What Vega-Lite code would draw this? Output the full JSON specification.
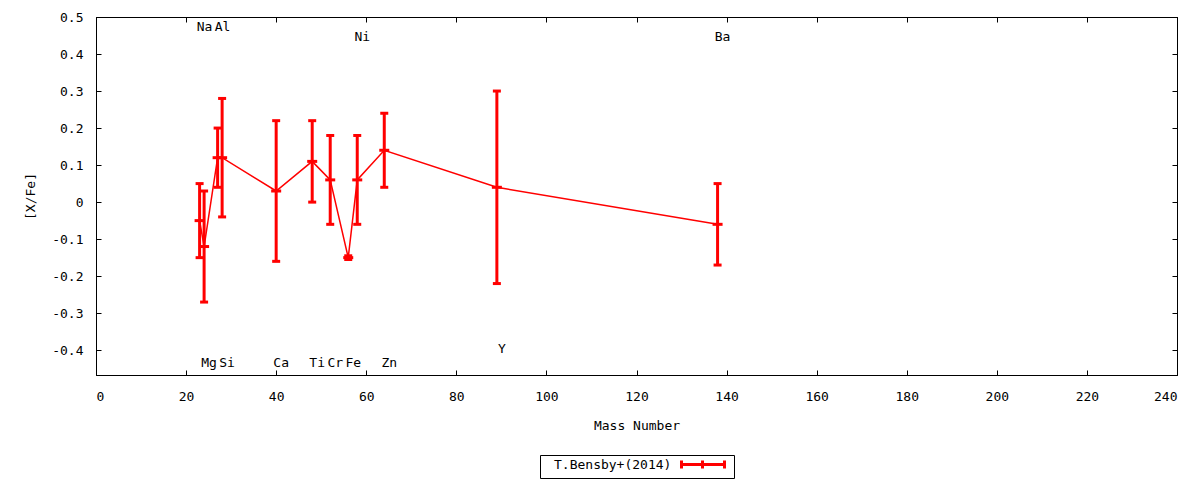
{
  "$schema": "https://vega.github.io/schema/vega-lite/v6.json",
  "width": 1081,
  "height": 358,
  "autosize": "none",
  "padding": {"left": 96, "top": 17, "right": 23, "bottom": 105},
  "background": "white",
  "config": {
    "font": "DejaVu Sans Mono",
    "view": {"stroke": "black", "strokeWidth": 1},
    "axis": {
      "labelFont": "DejaVu Sans Mono",
      "labelFontSize": 13,
      "labelColor": "black",
      "titleFont": "DejaVu Sans Mono",
      "titleFontSize": 13,
      "titleFontWeight": "normal",
      "titleColor": "black",
      "domainColor": "black",
      "tickColor": "black",
      "grid": false,
      "tickSize": -5
    }
  },
  "datasets": {
    "abund": [
      {"el": "Na", "mass": 23, "val": -0.05, "lo": -0.15, "hi": 0.05, "src": "T.Bensby+(2014)"},
      {"el": "Mg", "mass": 24, "val": -0.12, "lo": -0.27, "hi": 0.03, "src": "T.Bensby+(2014)"},
      {"el": "Al", "mass": 27, "val": 0.12, "lo": 0.04, "hi": 0.20, "src": "T.Bensby+(2014)"},
      {"el": "Si", "mass": 28, "val": 0.12, "lo": -0.04, "hi": 0.28, "src": "T.Bensby+(2014)"},
      {"el": "Ca", "mass": 40, "val": 0.03, "lo": -0.16, "hi": 0.22, "src": "T.Bensby+(2014)"},
      {"el": "Ti", "mass": 48, "val": 0.11, "lo": 0.00, "hi": 0.22, "src": "T.Bensby+(2014)"},
      {"el": "Cr", "mass": 52, "val": 0.06, "lo": -0.06, "hi": 0.18, "src": "T.Bensby+(2014)"},
      {"el": "Fe", "mass": 56, "val": -0.15, "lo": -0.155, "hi": -0.145, "src": "T.Bensby+(2014)"},
      {"el": "Ni", "mass": 58, "val": 0.06, "lo": -0.06, "hi": 0.18, "src": "T.Bensby+(2014)"},
      {"el": "Zn", "mass": 64, "val": 0.14, "lo": 0.04, "hi": 0.24, "src": "T.Bensby+(2014)"},
      {"el": "Y", "mass": 89, "val": 0.04, "lo": -0.22, "hi": 0.30, "src": "T.Bensby+(2014)"},
      {"el": "Ba", "mass": 138, "val": -0.06, "lo": -0.17, "hi": 0.05, "src": "T.Bensby+(2014)"}
    ],
    "labels": [
      {"el": "Na", "mass": 23, "ly": 0.473},
      {"el": "Al", "mass": 27, "ly": 0.473},
      {"el": "Ni", "mass": 58, "ly": 0.446},
      {"el": "Ba", "mass": 138, "ly": 0.446},
      {"el": "Mg", "mass": 24, "ly": -0.434},
      {"el": "Si", "mass": 28, "ly": -0.434},
      {"el": "Ca", "mass": 40, "ly": -0.434},
      {"el": "Ti", "mass": 48, "ly": -0.434},
      {"el": "Cr", "mass": 52, "ly": -0.434},
      {"el": "Fe", "mass": 56, "ly": -0.434},
      {"el": "Zn", "mass": 64, "ly": -0.434},
      {"el": "Y", "mass": 89, "ly": -0.397}
    ]
  },
  "resolve": {"axis": {"x": "independent", "y": "independent"}},
  "layer": [
    {
      "data": {"name": "abund"},
      "mark": {"type": "line", "color": "#ff0000", "strokeWidth": 1.5},
      "encoding": {
        "x": {
          "field": "mass", "type": "quantitative",
          "scale": {"domain": [0, 240], "nice": false, "zero": false},
          "axis": {"orient": "bottom", "values": [0, 20, 40, 60, 80, 100, 120, 140, 160, 180, 200, 220, 240],
                   "title": "Mass Number", "labelPadding": 20, "titlePadding": 16}
        },
        "y": {
          "field": "val", "type": "quantitative",
          "scale": {"domain": [-0.467, 0.5], "nice": false, "zero": false},
          "axis": {"orient": "left", "values": [-0.4, -0.3, -0.2, -0.1, 0, 0.1, 0.2, 0.3, 0.4, 0.5],
                   "labelExpr": "datum.value + ''", "title": "[X/Fe]", "labelPadding": 18, "titlePadding": 14}
        },
        "order": {"field": "mass", "type": "quantitative"}
      }
    },
    {
      "data": {"name": "abund"},
      "mark": {"type": "rule", "strokeWidth": 3},
      "encoding": {
        "x": {"field": "mass", "type": "quantitative",
              "axis": {"orient": "top", "values": [0, 20, 40, 60, 80, 100, 120, 140, 160, 180, 200, 220, 240], "labels": false, "title": null}},
        "y": {"field": "lo", "type": "quantitative",
              "axis": {"orient": "right", "values": [-0.4, -0.3, -0.2, -0.1, 0, 0.1, 0.2, 0.3, 0.4, 0.5], "labels": false, "title": null}},
        "y2": {"field": "hi"},
        "color": {
          "field": "src", "type": "nominal",
          "scale": {"range": ["#ff0000"]},
          "legend": {
            "orient": "none", "legendX": 444, "legendY": 438, "title": null,
            "symbolType": "M132,-4L132,4M132,0L175,0M175,-4L175,4M153,-4L153,4",
            "symbolSize": 4, "symbolStrokeWidth": 3, "symbolStrokeColor": "#ff0000", "symbolFillColor": "transparent",
            "labelOffset": -2, "padding": 3, "rowPadding": 0, "strokeColor": "black",
            "labelFont": "DejaVu Sans Mono", "labelFontSize": 13, "labelColor": "black"
          }
        }
      }
    },
    {
      "data": {"name": "abund"},
      "mark": {"type": "tick", "orient": "horizontal", "color": "#ff0000", "size": 8, "thickness": 3, "opacity": 1},
      "encoding": {
        "x": {"field": "mass", "type": "quantitative", "axis": null},
        "y": {"field": "lo", "type": "quantitative", "axis": null}
      }
    },
    {
      "data": {"name": "abund"},
      "mark": {"type": "tick", "orient": "horizontal", "color": "#ff0000", "size": 8, "thickness": 3, "opacity": 1},
      "encoding": {
        "x": {"field": "mass", "type": "quantitative", "axis": null},
        "y": {"field": "hi", "type": "quantitative", "axis": null}
      }
    },
    {
      "data": {"name": "abund"},
      "mark": {"type": "tick", "orient": "horizontal", "color": "#ff0000", "size": 10, "thickness": 3, "opacity": 1},
      "encoding": {
        "x": {"field": "mass", "type": "quantitative", "axis": null},
        "y": {"field": "val", "type": "quantitative", "axis": null}
      }
    },
    {
      "data": {"name": "labels"},
      "mark": {"type": "text", "font": "DejaVu Sans Mono", "fontSize": 13, "color": "black", "align": "center", "baseline": "middle", "dx": 5},
      "encoding": {
        "x": {"field": "mass", "type": "quantitative", "axis": null},
        "y": {"field": "ly", "type": "quantitative", "axis": null},
        "text": {"field": "el"}
      }
    }
  ]
}
